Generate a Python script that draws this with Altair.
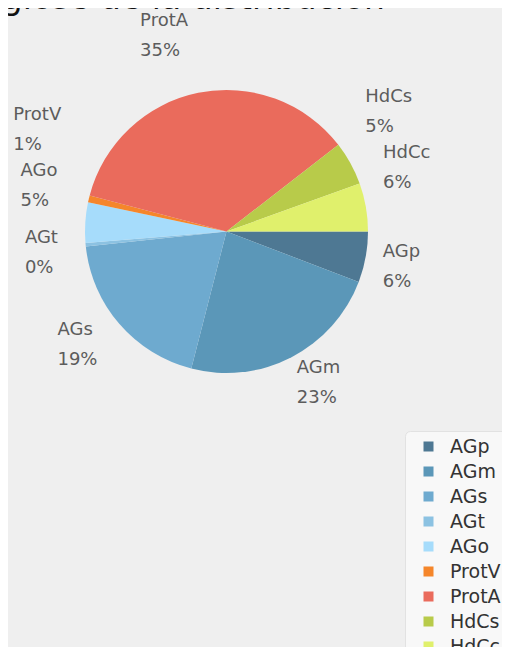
import math
import pandas as pd
import altair as alt

# ---- data ----
TITLE = "Desglose de la distribución"
names = ["AGp", "AGm", "AGs", "AGt", "AGo", "ProtV", "ProtA", "HdCs", "HdCc"]
values = [5.8, 23.2, 19.3, 0.4, 4.6, 0.8, 35.4, 5.0, 5.5]
colors = ["#4e7893", "#5b97b8", "#6eaacf", "#8cc2e2", "#a6dcfb",
          "#f5862b", "#ea6b5c", "#b8cb4a", "#e0f06c"]

# ---- layout / style ----
W, H = 494, 639
CX, CY, R = 218.5, 223.5, 141.5
LR = 164          # label anchor radius
UP = 35           # upper-half labels sit above their anchor
DOWN = 6          # lower-half labels sit slightly below their anchor
XSHIFT = -5       # horizontal nudge of the label ring
GAP = 56          # min vertical spacing between label blocks
LABEL_FS = 18
LH = 30
BG = "#efefef"

# approx DejaVu Sans advance widths (em)
CW = {"A": .684, "G": .775, "p": .635, "m": .974, "s": .521, "t": .392, "o": .612,
      "P": .603, "r": .411, "V": .684, "H": .752, "d": .635, "C": .698, "c": .55,
      "%": .95}


def text_w(s):
    return sum(CW.get(ch, .636) for ch in s) * LABEL_FS


total = sum(values)
rows = []
cum = 0.0
for i, (n, v) in enumerate(zip(names, values)):
    mid = (cum + v / 2) / total * 2 * math.pi  # clockwise from 3 o'clock
    cum += v
    pct = f"{int(v / total * 100 + 0.5)}%"
    ax = CX + LR * math.cos(mid) + XSHIFT
    ay = CY + LR * math.sin(mid) + (-UP if math.sin(mid) < 0 else DOWN)
    side = "R" if math.cos(mid) >= 0 else "L"
    w = max(text_w(n), text_w(pct))
    rows.append(dict(idx=i, name=n, value=v, label=f"{n}\n{pct}",
                     ax=ax, ay=ay, side=side, w=w))

# push overlapping label blocks upward on each side
for side in ("L", "R"):
    grp = sorted([r for r in rows if r["side"] == side], key=lambda r: -r["ay"])
    for a, b in zip(grp, grp[1:]):
        if b["ay"] > a["ay"] - GAP:
            b["ay"] = a["ay"] - GAP
for r in rows:
    r["lx"] = r["ax"] if r["side"] == "R" else r["ax"] - r["w"]
    r["ly"] = r["ay"] - LH / 2   # first line of the two-line block

df = pd.DataFrame(rows)

pie = alt.Chart(df).mark_arc(x=CX, y=CY, outerRadius=R).encode(
    theta=alt.Theta("value:Q", stack=True,
                    scale=alt.Scale(range=[math.pi / 2, math.pi / 2 + 2 * math.pi])),
    order=alt.Order("idx:Q"),
    color=alt.Color(
        "name:N",
        scale=alt.Scale(domain=names, range=colors),
        legend=alt.Legend(
            orient="none", legendX=397, legendY=423, title=None,
            symbolType="square", symbolSize=100, symbolStrokeWidth=0,
            labelFont="DejaVu Sans", labelFontSize=19, labelColor="#333333",
            rowPadding=5, padding=6, fillColor="#f8f8f8", strokeColor="#e2e2e2",
            cornerRadius=5, symbolOffset=8, labelOffset=12,
        ),
    ),
)

labels = alt.Chart(df).mark_text(
    align="left", baseline="middle", lineBreak="\n", lineHeight=LH,
    font="DejaVu Sans", fontSize=LABEL_FS, color="#5c5c5c",
).encode(
    x=alt.X("lx:Q", scale=None, axis=None),
    y=alt.Y("ly:Q", scale=None, axis=None),
    text="label:N",
)

title = alt.Chart(pd.DataFrame({"t": [TITLE]})).mark_text(
    align="right", baseline="alphabetic", font="DejaVu Sans", fontSize=33,
    color="#111111", x=377, y=1,
).encode(text="t:N")

chart = alt.layer(pie, labels, title).properties(
    width=W, height=H, padding=0,
    autosize=alt.AutoSizeParams(type="none"),
    background=BG,
).configure_view(stroke=None)

chart.save("out.html", embed_options={"renderer": "svg", "actions": False})
